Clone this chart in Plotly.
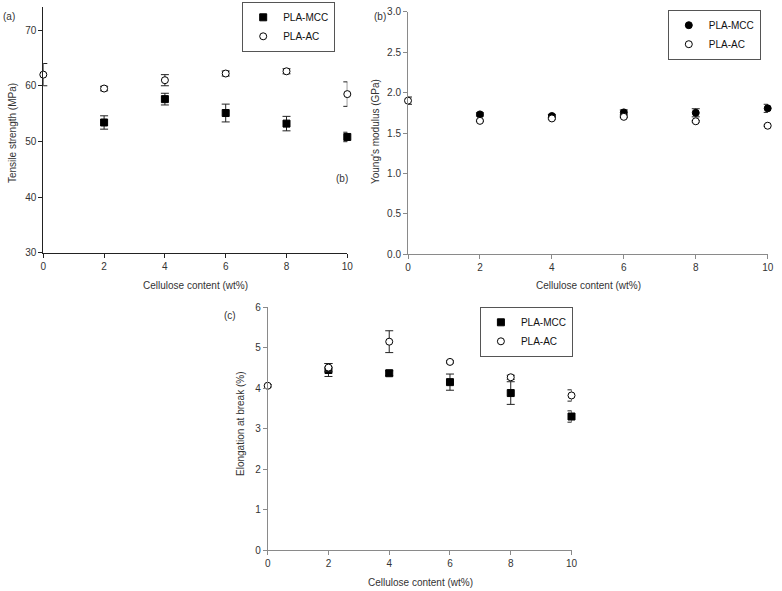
import plotly.graph_objects as go

W, H = 782, 591

# ---- data ----
cellulose = [0, 2, 4, 6, 8, 10]
mcc_x = [2, 4, 6, 8, 10]

ts_mcc = [53.4, 57.6, 55.1, 53.2, 50.8]
ts_mcc_err = [1.2, 1.05, 1.6, 1.3, 0.85]
ts_ac = [62.0, 59.5, 61.0, 62.2, 62.6, 58.5]
ts_ac_err = [2.0, 0.4, 1.0, 0.45, 0.45, 2.2]

ym_mcc = [1.73, 1.71, 1.755, 1.75, 1.805]
ym_mcc_err = [0.02, 0.02, 0.03, 0.05, 0.05]
ym_ac = [1.90, 1.65, 1.68, 1.70, 1.645, 1.59]
ym_ac_err = [0.045, 0.01, 0.01, 0.01, 0.01, 0.01]

eb_mcc = [4.45, 4.37, 4.15, 3.88, 3.30]
eb_mcc_err = [0.16, 0.06, 0.2, 0.28, 0.14]
eb_ac = [4.06, 4.51, 5.15, 4.65, 4.27, 3.82]
eb_ac_err = [0.03, 0.1, 0.27, 0.03, 0.05, 0.14]

x_ticks = [0, 2, 4, 6, 8, 10]
ts_ticks = [30, 40, 50, 60, 70]
ym_ticks = [0.0, 0.5, 1.0, 1.5, 2.0, 2.5, 3.0]
eb_ticks = [0, 1, 2, 3, 4, 5, 6]

FONT = "Liberation Sans, Arial, sans-serif"
TXT = "#333333"


def px(x):
    return x / W


def py(y):
    return 1 - y / H


fig = go.Figure()


def err(vals, color="#222222"):
    return dict(type="data", array=vals, visible=True, color=color,
                thickness=1, width=4)


def add_pair(xa, ya, mx, my, merr, ax, ay, aerr, msym, legend):
    fig.add_trace(go.Scatter(
        x=mx, y=my, mode="markers", name="PLA-MCC", xaxis=xa, yaxis=ya,
        marker=dict(symbol=msym, size=7, color="black",
                    line=dict(color="black", width=1)),
        error_y=err(merr), cliponaxis=False, legend=legend))
    fig.add_trace(go.Scatter(
        x=ax, y=ay, mode="markers", name="PLA-AC", xaxis=xa, yaxis=ya,
        marker=dict(symbol="circle", size=7, color="white",
                    line=dict(color="black", width=1)),
        error_y=err(aerr), cliponaxis=False, legend=legend))


add_pair("x", "y", mcc_x, ts_mcc, ts_mcc_err, cellulose, ts_ac, ts_ac_err,
         "square", "legend")
add_pair("x2", "y2", mcc_x, ym_mcc, ym_mcc_err, cellulose, ym_ac, ym_ac_err,
         "circle", "legend2")
add_pair("x3", "y3", mcc_x, eb_mcc, eb_mcc_err, cellulose, eb_ac, eb_ac_err,
         "square", "legend3")


def axis_style(color, **kw):
    d = dict(showline=True, linecolor=color, linewidth=1, ticks="outside",
             ticklen=4, tickcolor=color, tickwidth=1, showgrid=False,
             zeroline=False, mirror=False, automargin=False,
             tickfont=dict(family=FONT, size=10, color=TXT))
    d.update(kw)
    return d


legend_common = dict(bgcolor="white", bordercolor="#555555", borderwidth=1,
                     font=dict(family=FONT, size=10, color="#111111"),
                     xanchor="center", yanchor="middle",
                     tracegroupgap=0, itemwidth=30)

fig.update_layout(
    width=W, height=H,
    margin=dict(l=0, r=0, t=0, b=0, pad=0, autoexpand=False),
    paper_bgcolor="white", plot_bgcolor="white",
    font=dict(family=FONT, size=10, color=TXT),
    showlegend=True,
    xaxis=axis_style("#222222", domain=[px(43.3), px(347.3)], range=[0, 10],
                     tickvals=x_ticks, anchor="y"),
    yaxis=axis_style("#222222", domain=[py(252.7), py(7.3)], range=[30, 74.1],
                     tickvals=ts_ticks, anchor="x"),
    xaxis2=axis_style("#8a8a8a", domain=[px(408.0), px(767.7)], range=[0, 10],
                      tickvals=x_ticks, anchor="y2"),
    yaxis2=axis_style("#8a8a8a", domain=[py(254.3), py(11.7)], range=[0, 3],
                      tickvals=ym_ticks, tickformat=".1f", anchor="x2"),
    xaxis3=axis_style("#8a8a8a", domain=[px(267.7), px(571.5)], range=[0, 10],
                      tickvals=x_ticks, anchor="y3"),
    yaxis3=axis_style("#8a8a8a", domain=[py(550.0), py(307.3)], range=[0, 6],
                      tickvals=eb_ticks, anchor="x3"),
    legend=dict(legend_common, x=px(288.7), y=py(26.8)),
    legend2=dict(legend_common, x=px(714.3), y=py(34.7)),
    legend3=dict(legend_common, x=px(526.4), y=py(331.8)),
)


def label(text, x, y, angle=0):
    fig.add_annotation(text=text, x=px(x), y=py(y), xref="paper",
                       yref="paper", showarrow=False, textangle=angle,
                       xanchor="center", yanchor="middle",
                       font=dict(family=FONT, size=10, color=TXT))


label("Cellulose content (wt%)", 195.3, 285)
label("Tensile strength (MPa)", 13, 133, -90)
label("Cellulose content (wt%)", 588, 285)
label("Young's modulus (GPa)", 375, 132, -90)
label("Cellulose content (wt%)", 420, 582)
label("Elongation at break (%)", 240, 424, -90)
label("(a)", 9, 16)
label("(b)", 380, 16)
label("(b)", 341.7, 178)
label("(c)", 230, 315)

fig.write_html(
    "out.html",
    config={"displayModeBar": False},
    post_script="document.body.style.margin='0';"
                "document.body.style.padding='0';"
                "document.body.style.overflow='hidden';",
)
